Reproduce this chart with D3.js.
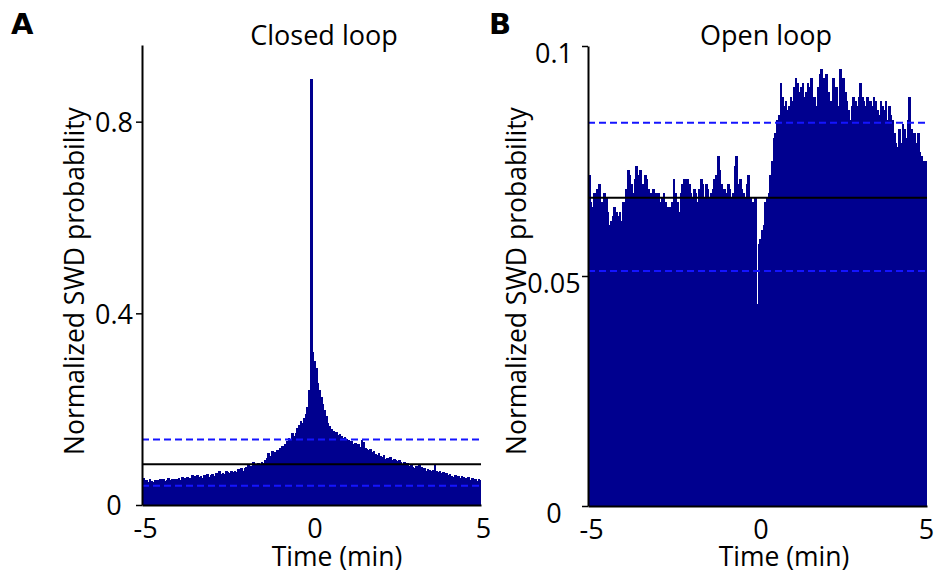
<!DOCTYPE html>
<html lang="en">
<head>
<meta charset="UTF-8">
<title>Normalized SWD probability</title>
<script src="https://cdnjs.cloudflare.com/ajax/libs/d3/7.8.5/d3.min.js"></script>
<style>
    body { margin: 0; background: #fff; }
    text { font-family: "Open Sans", sans-serif; fill: #000; }
</style>
</head>
<body>
<div id="chart"></div>
<script>
// histogram bins: 200 bins of 0.05 min from -5 to 5 min
var binStart = -5;
var binWidth = 0.05;

var closedLoop = [
    0.056, 0.050, 0.052, 0.048, 0.054, 0.051, 0.049, 0.053, 0.050, 0.052,
    0.054, 0.051, 0.055, 0.050, 0.053, 0.056, 0.052, 0.054, 0.051, 0.055,
    0.055, 0.057, 0.053, 0.058, 0.054, 0.056, 0.059, 0.055, 0.057, 0.062,
    0.060, 0.058, 0.063, 0.059, 0.061, 0.057, 0.062, 0.060, 0.064, 0.059,
    0.062, 0.064, 0.060, 0.066, 0.063, 0.070, 0.064, 0.067, 0.065, 0.072,
    0.068, 0.066, 0.070, 0.068, 0.072, 0.069, 0.075, 0.071, 0.077, 0.072,
    0.078, 0.080, 0.083, 0.079, 0.082, 0.090, 0.086, 0.084, 0.088, 0.085,
    0.089, 0.087, 0.094, 0.098, 0.108, 0.103, 0.112, 0.106, 0.110, 0.115,
    0.112, 0.118, 0.124, 0.120, 0.128, 0.134, 0.140, 0.136, 0.150, 0.145,
    0.150, 0.160, 0.168, 0.175, 0.172, 0.182, 0.190, 0.205, 0.240, 0.890,
    0.320, 0.300, 0.285, 0.255, 0.240, 0.225, 0.210, 0.198, 0.185, 0.172,
    0.165, 0.158, 0.155, 0.150, 0.152, 0.146, 0.148, 0.143, 0.140, 0.142,
    0.138, 0.135, 0.131, 0.134, 0.128, 0.130, 0.125, 0.127, 0.122, 0.136,
    0.132, 0.120, 0.117, 0.114, 0.116, 0.110, 0.112, 0.106, 0.104, 0.108,
    0.102, 0.100, 0.104, 0.097, 0.099, 0.095, 0.100, 0.094, 0.097, 0.093,
    0.091, 0.094, 0.089, 0.086, 0.090, 0.084, 0.087, 0.082, 0.085, 0.080,
    0.078, 0.081, 0.076, 0.086, 0.079, 0.074, 0.077, 0.072, 0.075, 0.073,
    0.070, 0.074, 0.085, 0.072, 0.068, 0.071, 0.066, 0.069, 0.065, 0.067,
    0.062, 0.064, 0.060, 0.058, 0.063, 0.059, 0.061, 0.056, 0.060, 0.058,
    0.057, 0.055, 0.058, 0.053, 0.056, 0.052, 0.055, 0.051, 0.054, 0.053
];

var openLoop = [
    0.072, 0.066, 0.065, 0.068, 0.067, 0.069, 0.070, 0.066, 0.065, 0.068,
    0.067, 0.064, 0.061, 0.062, 0.063, 0.065, 0.064, 0.063, 0.064, 0.062,
    0.066, 0.065, 0.069, 0.073, 0.072, 0.070, 0.068, 0.071, 0.074, 0.072,
    0.073, 0.069, 0.070, 0.072, 0.071, 0.069, 0.068, 0.067, 0.069, 0.068,
    0.067, 0.068, 0.066, 0.067, 0.068, 0.066, 0.065, 0.064, 0.065, 0.066,
    0.071, 0.068, 0.066, 0.064, 0.068, 0.070, 0.071, 0.069, 0.071, 0.070,
    0.068, 0.067, 0.069, 0.068, 0.066, 0.069, 0.071, 0.070, 0.067, 0.070,
    0.069, 0.067, 0.068, 0.069, 0.071, 0.072, 0.076, 0.073, 0.070, 0.069,
    0.069, 0.068, 0.070, 0.069, 0.067, 0.068, 0.074, 0.076, 0.070, 0.071,
    0.069, 0.068, 0.067, 0.070, 0.072, 0.067, 0.066, 0.066, 0.067, 0.044,
    0.057, 0.058, 0.060, 0.061, 0.066, 0.067, 0.068, 0.072, 0.075, 0.080,
    0.081, 0.084, 0.085, 0.092, 0.089, 0.087, 0.088, 0.086, 0.087, 0.089,
    0.088, 0.091, 0.093, 0.092, 0.090, 0.091, 0.092, 0.089, 0.090, 0.092,
    0.091, 0.093, 0.088, 0.089, 0.087, 0.091, 0.094, 0.095, 0.093, 0.092,
    0.094, 0.090, 0.085, 0.088, 0.093, 0.089, 0.091, 0.087, 0.095, 0.092,
    0.093, 0.090, 0.088, 0.086, 0.084, 0.087, 0.089, 0.088, 0.087, 0.089,
    0.092, 0.089, 0.088, 0.087, 0.089, 0.086, 0.088, 0.087, 0.089, 0.088,
    0.086, 0.085, 0.088, 0.087, 0.086, 0.088, 0.084, 0.087, 0.085, 0.084,
    0.081, 0.079, 0.078, 0.082, 0.079, 0.083, 0.082, 0.080, 0.084, 0.089,
    0.082, 0.080, 0.081, 0.079, 0.081, 0.077, 0.076, 0.075, 0.074, 0.075
];

// [lower dashed, mean, upper dashed]
var closedLines = [0.040, 0.085, 0.1365];
var openLines = [0.0511, 0.067, 0.0833];

var xTicks = [-5, 0, 5];
var closedYTicks = [0, 0.4, 0.8];
var openYTicks = [0, 0.05, 0.1];

var barColor = "#00008f";
var dashColor = "#1414ff";

var svg = d3.select("#chart")
    .append("svg")
    .attr("width", 936)
    .attr("height", 574);

function drawPanel(p) {
    var x = d3.scaleLinear().domain([-5, 5]).range([p.left, p.right]);
    var y = d3.scaleLinear().domain([0, p.yMax]).range([p.bottom, p.top]);
    var g = svg.append("g");

    // bars
    g.append("g")
        .attr("shape-rendering", "crispEdges")
        .selectAll("rect")
        .data(p.values)
        .enter().append("rect")
        .attr("x", function (d, i) { return x(binStart + i * binWidth); })
        .attr("width", function (d, i) {
            var w = x(binStart + (i + 1) * binWidth) - x(binStart + i * binWidth);
            return i < p.values.length - 1 ? w + 1 : w;
        })
        .attr("y", function (d) { return y(d); })
        .attr("height", function (d) { return y(0) - y(d); })
        .attr("fill", barColor);

    // mean and thresholds
    p.lines.forEach(function (v, i) {
        g.append("line")
            .attr("x1", x(-5)).attr("x2", x(5))
            .attr("y1", y(v)).attr("y2", y(v))
            .attr("stroke", i === 1 ? "#000" : dashColor)
            .attr("stroke-width", 2)
            .attr("stroke-dasharray", i === 1 ? null : "7,4");
    });

    // axes
    var yAxis = g.append("g")
        .attr("transform", "translate(" + p.left + ",0)")
        .call(d3.axisLeft(y).tickValues(p.yTicks).tickSize(6).tickSizeOuter(0)
            .tickFormat(function (d) { return d === 0 ? "0" : String(d); }));
    yAxis.select(".domain").attr("stroke-width", 2);
    yAxis.selectAll(".tick line").attr("stroke-width", 1.5);
    yAxis.selectAll(".tick text")
        .attr("font-family", "'Open Sans', sans-serif")
        .attr("font-size", 27)
        .attr("text-anchor", "middle")
        .attr("x", -p.labelOffset)
        .attr("y", p.labelDy)
        .attr("dy", "0.36em");

    var xAxis = g.append("g")
        .attr("transform", "translate(0," + p.bottom + ")")
        .call(d3.axisBottom(x).tickValues(xTicks).tickSize(0).tickSizeOuter(0).tickPadding(14)
            .tickFormat(function (d) { return d < 0 ? "-" + Math.abs(d) : String(d); }));
    xAxis.select(".domain").attr("stroke-width", 2);
    xAxis.selectAll(".tick text")
        .attr("font-family", "'Open Sans', sans-serif")
        .attr("font-size", 27)
        .attr("dx", function (d) { return d === 5 ? p.lastDx : 3; });

    g.append("text")
        .attr("x", p.titleX)
        .attr("y", 45)
        .attr("text-anchor", "middle")
        .style("font-size", "27px")
        .text(p.title);

    g.append("text")
        .attr("x", p.xLabelX)
        .attr("y", 566)
        .attr("text-anchor", "middle")
        .style("font-size", "26.5px")
        .text("Time (min)");

    g.append("text")
        .attr("transform", "rotate(-90)")
        .attr("x", -281)
        .attr("y", p.yLabelX)
        .attr("text-anchor", "middle")
        .style("font-size", "26.5px")
        .text("Normalized SWD probability");

    g.append("text")
        .attr("x", p.letterX)
        .attr("y", 34)
        .style("font-family", "'DejaVu Sans', sans-serif")
        .style("font-weight", "bold")
        .style("font-size", "29px")
        .text(p.letter);
}

drawPanel({
    values: closedLoop, lines: closedLines, yTicks: closedYTicks, yMax: 0.96,
    left: 142, right: 481, top: 45, bottom: 505,
    labelOffset: 28, labelDy: 0, lastDx: 2, yLabelX: 84,
    title: "Closed loop", titleX: 324, xLabelX: 337, letter: "A", letterX: 11
});

drawPanel({
    values: openLoop, lines: openLines, yTicks: openYTicks, yMax: 0.1,
    left: 588, right: 927, top: 46, bottom: 506,
    labelOffset: 34, labelDy: 7, lastDx: -1, yLabelX: 526,
    title: "Open loop", titleX: 766, xLabelX: 784, letter: "B", letterX: 489
});
</script>
</body>
</html>
